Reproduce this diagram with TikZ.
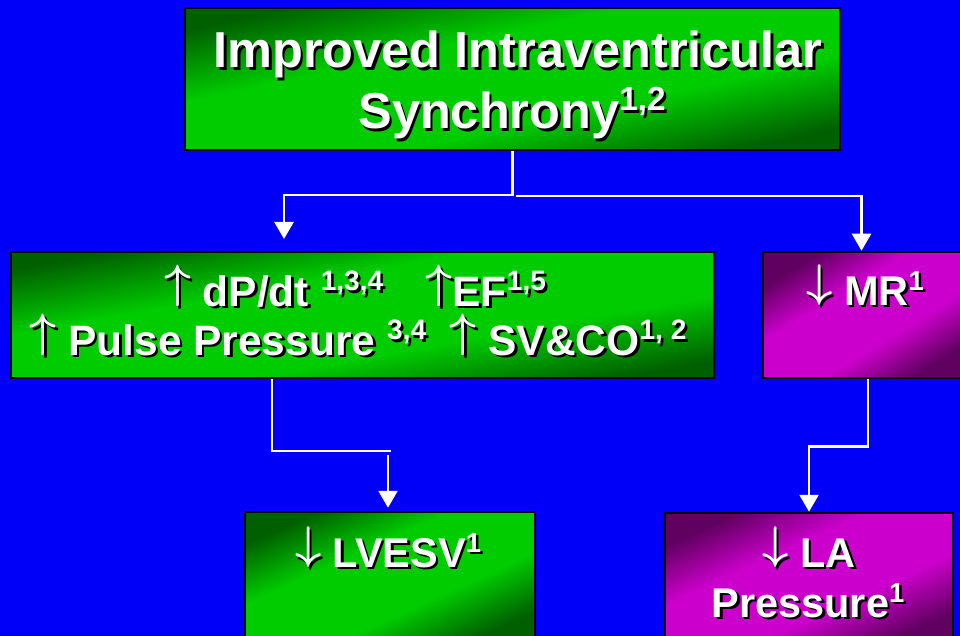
\documentclass[tikz,border=0pt]{standalone}
\usepackage{fix-cm}
\usepackage{fontspec}
\setmainfont{Liberation Sans}
\usepackage{graphicx}
\usepackage{xcolor}
\usepackage{tikz}
\usetikzlibrary{arrows.meta}

\definecolor{slideblue}{RGB}{0,0,250}
\definecolor{gdark}{RGB}{0,96,0}
\definecolor{glight}{RGB}{0,204,0}
\definecolor{mdark}{RGB}{96,0,96}
\definecolor{mlight}{RGB}{204,0,204}

% dark corners, bright diagonal band
\pgfdeclareverticalshading{greenglow}{100bp}{color(0bp)=(gdark); color(25bp)=(gdark);
  color(40bp)=(glight); color(60bp)=(glight); color(75bp)=(gdark); color(100bp)=(gdark)}
\pgfdeclareverticalshading{pinkglow}{100bp}{color(0bp)=(mdark); color(25bp)=(mdark);
  color(40bp)=(mlight); color(60bp)=(mlight); color(75bp)=(mdark); color(100bp)=(mdark)}

% thin arrows, raised citation numbers, dropped shadow behind white text
\newcommand{\uparr}{\raisebox{0.2em}{\scalebox{1.1}{\boldmath$\uparrow$}}}
\newcommand{\dnarr}{\raisebox{0.2em}{\scalebox{1.1}{\boldmath$\downarrow$}}}
\newcommand{\refs}[1]{\raisebox{0.36em}{\scalebox{0.66}{#1}}}
\newcommand{\shd}[1]{\rlap{\kern2.5pt\raisebox{-2.5pt}{\color{black}#1}}#1}

\tikzset{
  box/.style={draw=black, line width=2.5pt, rectangle, inner sep=0pt},
  greenbox/.style={box, shade, shading=greenglow, shading angle=#1},
  pinkbox/.style={box, shade, shading=pinkglow, shading angle=#1},
  titletext/.style={text=white, anchor=base, inner sep=0pt, font=\fontsize{50.5pt}{60pt}\selectfont\bfseries},
  bodytext/.style={text=white, anchor=base, inner sep=0pt, font=\fontsize{41.5pt}{50pt}\selectfont\bfseries},
  listtext/.style={bodytext, font=\fontsize{42.5pt}{50pt}\selectfont\bfseries},
  link/.style={draw=white, line width=2.5pt},
  flow/.style={link, -{Triangle[width=19pt,length=17pt]}},
}

\begin{document}
\begin{tikzpicture}[x=1pt, y=-1pt]
  % slide
  \fill[slideblue] (0,0) rectangle (960,636);
  \useasboundingbox (0,0) rectangle (960,636);
  \clip (0,0) rectangle (960,636);

  % boxes
  \node[greenbox=12.2, minimum width=655pt, minimum height=142pt] (sync) at (512.5,79) {};
  \node[greenbox=10.2, minimum width=703pt, minimum height=126pt] (effects) at (362.5,315) {};
  \node[pinkbox=31.6, minimum width=205pt, minimum height=126pt] (mr) at (865.5,315) {};
  \node[greenbox=24.5, minimum width=290pt, minimum height=132pt] (lvesv) at (390,578) {};
  \node[pinkbox=24.6, minimum width=288pt, minimum height=132pt] (la) at (809,579) {};

  % texts
  \node[titletext] (title1) at (518,68) {\shd{Improved Intraventricular}};
  \node[titletext] (title2) at (512,129) {\shd{Synchrony\refs{1,2}}};
  \node[listtext] (dpdt) at (355,306) {\shd{\uparr\ dP/dt \refs{1,3,4}\quad\uparr EF\refs{1,5}}};
  \node[listtext] (pulse) at (358,355) {\shd{\uparr\ Pulse Pressure \refs{3,4}\ \ \uparr\ SV\&CO\refs{1, 2}}};
  \node[bodytext] (mrtext) at (865,305) {\shd{\dnarr\ MR\refs{1}}};
  \node[bodytext] (lvtext) at (388,567) {\shd{\dnarr\ LVESV\refs{1}}};
  \node[bodytext] (latext1) at (809,567) {\shd{\dnarr\ LA}};
  \node[bodytext] (latext2) at (808,617) {\shd{Pressure\refs{1}}};

  % connectors
  \coordinate (efftip) at (284,239);
  \coordinate (mrfork) at (516,196);
  \coordinate (lvbend) at (391,451);
  \coordinate (lvdrop) at (388,455);

  \draw[flow] (sync.south) -- ++(0,44) -| (efftip);
  \draw[flow] (mrfork) -| ([xshift=-4pt]mr.north);
  \draw[link] ([xshift=-90.5pt]effects.south) |- (lvbend);
  \draw[flow, shorten >=3pt] (lvdrop) -- (lvdrop |- lvesv.north);
  \draw[flow] ([xshift=2.5pt]mr.south) -- ++(0,67) -| (la.north);
\end{tikzpicture}
\end{document}
